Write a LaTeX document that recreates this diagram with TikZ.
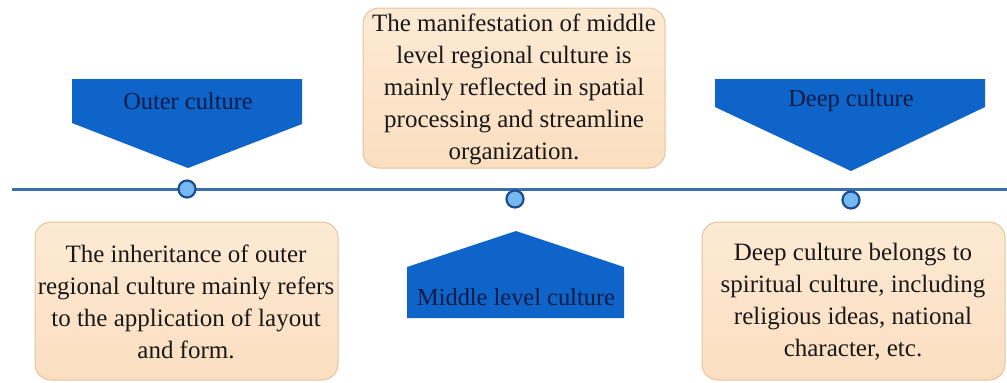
\documentclass[tikz,border=0pt]{standalone}
\usepackage{fontspec}
\setmainfont{Liberation Serif}
\usepackage{tikz}

\definecolor{bannerblue}{RGB}{14,100,200}
\definecolor{bannertext}{RGB}{10,28,70}
\definecolor{lineblue}{RGB}{60,110,172}
\definecolor{dotfill}{RGB}{116,185,242}
\definecolor{dotdraw}{RGB}{30,78,142}
\definecolor{peachtop}{RGB}{253,234,212}
\definecolor{peachbot}{RGB}{251,222,192}
\definecolor{peachdraw}{RGB}{228,196,156}
\definecolor{boxtext}{RGB}{25,25,25}

\tikzset{
  textbox/.style={rounded corners=8pt, draw=peachdraw, line width=0.5pt,
    top color=peachtop, bottom color=peachbot},
  boxlabel/.style={align=center, text=boxtext, font=\fontsize{12.5}{16}\selectfont},
  banner/.style={fill=bannerblue},
  bannerlabel/.style={text=bannertext, font=\fontsize{12.2}{16}\selectfont},
  dot/.style={circle, draw=dotdraw, fill=dotfill, line width=1.1pt,
    minimum size=8.5pt, inner sep=0pt}
}

\begin{document}
\begin{tikzpicture}[x=0.5pt, y=-0.5pt]
	  \useasboundingbox (0,0) rectangle (1007,382);

	  % Banners
	  \fill[banner] (72,79) -- (302,79) -- (302,124) -- (188,168) -- (72,123) -- cycle;
	  \fill[banner] (715,79) -- (985,79) -- (985,107) -- (851,171) -- (715,107) -- cycle;
	  \fill[banner] (407,267) -- (516,231) -- (624,267) -- (624,318) -- (407,318) -- cycle;
	  \node[bannerlabel] (outer) at (188,101) {Outer culture};
	  \node[bannerlabel] (deep) at (851,101) {Deep culture};
	  \node[bannerlabel] (middle) at (516,297) {Middle level culture};

	  % Boxes
	  \path[textbox] (363,8) rectangle (665,168);
	  \node[boxlabel] (middletext) at (514,89)
	    {The manifestation of middle\\level regional culture is\\mainly reflected in spatial\\processing and streamline\\organization.};
	  \path[textbox] (35,222) rectangle (338,380);
	  \node[boxlabel] (outertext) at (186,302)
	    {The inheritance of outer\\regional culture mainly refers\\to the application of layout\\and form.};
	  \path[textbox] (702,222) rectangle (1005,380);
	  \node[boxlabel] (deeptext) at (853,302)
	    {Deep culture belongs to\\spiritual culture, including\\religious ideas, national\\character, etc.};

	  % Timeline
	  \coordinate (start) at (12,189);
	  \coordinate (end) at (1007,189);
	  \draw[lineblue, line width=1.5pt] (start) -- (end); % the time axis
	  \node[dot] (p1) at (187,189) {};
	  \node[dot] (p2) at (515,199) {};
	  \node[dot] (p3) at (851,200) {};
	\end{tikzpicture}
\end{document}
